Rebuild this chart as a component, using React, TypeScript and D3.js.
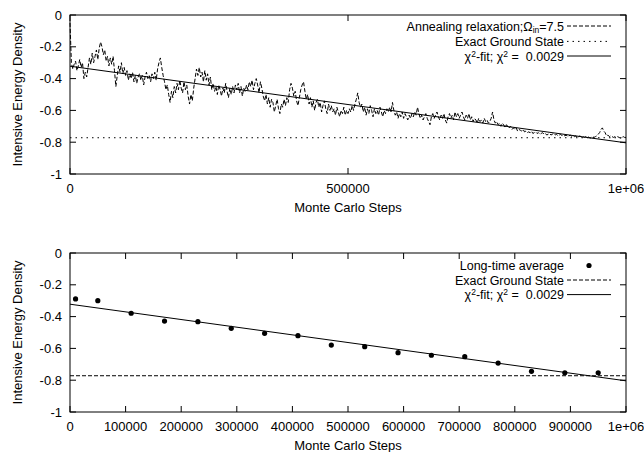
import React from 'react';
import * as d3 from 'd3';

// Annealing relaxation energy density, read every 2500 Monte Carlo steps (0 .. 1e6)
const annealingValues: number[] = [
  -0.05, -0.30, -0.34, -0.31, -0.29, -0.35, -0.32, -0.28, -0.33, -0.30,
  -0.40, -0.36, -0.39, -0.33, -0.27, -0.31, -0.24, -0.30, -0.26, -0.22,
  -0.28, -0.21, -0.17, -0.20, -0.25, -0.22, -0.29, -0.26, -0.32, -0.27,
  -0.31, -0.26, -0.35, -0.45, -0.38, -0.32, -0.36, -0.30, -0.37, -0.33,
  -0.38, -0.35, -0.41, -0.37, -0.40, -0.36, -0.42, -0.38, -0.43, -0.39,
  -0.37, -0.41, -0.38, -0.44, -0.39, -0.36, -0.40, -0.38, -0.42, -0.37,
  -0.40, -0.36, -0.41, -0.34, -0.30, -0.27, -0.33, -0.38, -0.42, -0.47,
  -0.44, -0.50, -0.55, -0.48, -0.52, -0.45, -0.49, -0.43, -0.47, -0.41,
  -0.46, -0.49, -0.42, -0.47, -0.44, -0.51, -0.56, -0.50, -0.54, -0.46,
  -0.40, -0.34, -0.38, -0.33, -0.39, -0.36, -0.42, -0.35, -0.41, -0.37,
  -0.44, -0.39, -0.47, -0.43, -0.48, -0.45, -0.50, -0.44, -0.47, -0.51,
  -0.46, -0.49, -0.43, -0.48, -0.52, -0.46, -0.50, -0.45, -0.49, -0.44,
  -0.47, -0.43, -0.49, -0.45, -0.51, -0.46, -0.48, -0.44, -0.47, -0.42,
  -0.45, -0.41, -0.47, -0.43, -0.40, -0.44, -0.49, -0.42, -0.46, -0.51,
  -0.54, -0.50, -0.56, -0.52, -0.58, -0.53, -0.55, -0.61, -0.57, -0.53,
  -0.59, -0.62, -0.56, -0.58, -0.53, -0.57, -0.52, -0.55, -0.47, -0.43,
  -0.46, -0.51, -0.48, -0.54, -0.57, -0.52, -0.47, -0.44, -0.42, -0.48,
  -0.53, -0.50, -0.56, -0.52, -0.58, -0.54, -0.60, -0.55, -0.53, -0.58,
  -0.55, -0.61, -0.57, -0.54, -0.59, -0.62, -0.56, -0.60, -0.57, -0.61,
  -0.59, -0.63, -0.58, -0.61, -0.64, -0.60, -0.62, -0.58, -0.63, -0.60,
  -0.62, -0.59, -0.61, -0.57, -0.60, -0.56, -0.53, -0.49, -0.55, -0.58,
  -0.56, -0.61, -0.58, -0.63, -0.59, -0.62, -0.57, -0.60, -0.64, -0.59,
  -0.62, -0.60, -0.63, -0.58, -0.61, -0.64, -0.60, -0.62, -0.59, -0.61,
  -0.58, -0.61, -0.55, -0.60, -0.63, -0.61, -0.65, -0.62, -0.64, -0.61,
  -0.65, -0.62, -0.64, -0.66, -0.63, -0.65, -0.62, -0.64, -0.61, -0.63,
  -0.58, -0.62, -0.65, -0.63, -0.66, -0.64, -0.62, -0.65, -0.67, -0.69,
  -0.64, -0.62, -0.65, -0.63, -0.61, -0.64, -0.66, -0.63, -0.65, -0.62,
  -0.66, -0.68, -0.64, -0.62, -0.65, -0.63, -0.66, -0.61, -0.64, -0.62,
  -0.65, -0.63, -0.61, -0.64, -0.66, -0.63, -0.65, -0.62, -0.66, -0.64,
  -0.67, -0.65, -0.66, -0.68, -0.65, -0.67, -0.66, -0.68, -0.65, -0.67,
  -0.66, -0.68, -0.67, -0.65, -0.61, -0.66, -0.68, -0.67, -0.69, -0.68,
  -0.70, -0.68, -0.69, -0.71, -0.69, -0.70, -0.71, -0.70, -0.72, -0.71,
  -0.72, -0.71, -0.73, -0.72, -0.725, -0.73, -0.72, -0.735, -0.73, -0.74,
  -0.735, -0.74, -0.73, -0.745, -0.74, -0.735, -0.745, -0.74, -0.75, -0.745,
  -0.74, -0.75, -0.745, -0.755, -0.75, -0.745, -0.755, -0.75, -0.745, -0.755,
  -0.75, -0.76, -0.755, -0.75, -0.76, -0.755, -0.76, -0.755, -0.765, -0.76,
  -0.755, -0.765, -0.76, -0.765, -0.76, -0.77, -0.765, -0.76, -0.77, -0.765,
  -0.77, -0.765, -0.77, -0.765, -0.775, -0.77, -0.765, -0.77, -0.765, -0.76,
  -0.75, -0.74, -0.72, -0.71, -0.73, -0.74, -0.76, -0.755, -0.765, -0.76,
  -0.765, -0.77, -0.765, -0.77, -0.765, -0.77, -0.775, -0.77, -0.765, -0.77,
  -0.77,
];
const annealingStep = 2500;

// Long-time averages
const averageSteps: number[] = [
  10000, 50000, 110000, 170000, 230000, 290000, 350000, 410000, 470000,
  530000, 590000, 650000, 710000, 770000, 830000, 890000, 950000,
];
const averageValues: number[] = [
  -0.289, -0.300, -0.379, -0.428, -0.432, -0.474, -0.505, -0.520, -0.579,
  -0.589, -0.627, -0.643, -0.652, -0.692, -0.744, -0.753, -0.753,
];

const groundState = -0.772;
const fitIntercept = -0.322;
const fitSlope = -0.482e-6;

const yTicks: number[] = [0, -0.2, -0.4, -0.6, -0.8, -1];
const xTicksTop: number[] = [0, 500000, 1000000];
const xTicksBottom: number[] = [0, 100000, 200000, 300000, 400000, 500000, 600000, 700000, 800000, 900000, 1000000];

const W = 644;
const H = 452;
const LEFT = 70;
const RIGHT = 626;
const FONT = "'Liberation Sans', Arial, Helvetica, sans-serif";
const FS = 13;
const LFS = 12.5;
const SFS = 8.5;
const DASH = '4,2';
const DOT = '1.5,4';

const fmtX = (v: number) => (v >= 1000000 ? '1e+06' : String(v));
const fmtY = (v: number) => (v === 0 ? '0' : String(v));

type PanelProps = {
  top: number;
  bottom: number;
  xTicks: number[];
  children: (x: d3.ScaleLinear<number, number>, y: d3.ScaleLinear<number, number>) => React.ReactNode;
};

function Panel({ top, bottom, xTicks, children }: PanelProps) {
  const x = d3.scaleLinear().domain([0, 1000000]).range([LEFT, RIGHT]);
  const y = d3.scaleLinear().domain([-1, 0]).range([bottom, top]);
  const tl = 6;
  return (
    <g>
      {yTicks.map((t) => (
        <g key={'y' + t}>
          <line x1={LEFT} x2={LEFT + tl} y1={y(t)} y2={y(t)} stroke="#000" />
          <line x1={RIGHT} x2={RIGHT - tl} y1={y(t)} y2={y(t)} stroke="#000" />
          <text x={LEFT - 8} y={y(t)} dy="0.36em" textAnchor="end" fontSize={FS} fontFamily={FONT}>
            {fmtY(t)}
          </text>
        </g>
      ))}
      {xTicks.map((t) => (
        <g key={'x' + t}>
          <line x1={x(t)} x2={x(t)} y1={bottom} y2={bottom - tl} stroke="#000" />
          <line x1={x(t)} x2={x(t)} y1={top} y2={top + tl} stroke="#000" />
          <text x={x(t)} y={bottom + 19} textAnchor="middle" fontSize={FS} fontFamily={FONT}>
            {fmtX(t)}
          </text>
        </g>
      ))}
      <text
        transform={`translate(${21.5},${(top + bottom) / 2}) rotate(-90)`}
        textAnchor="middle"
        fontSize={FS}
        fontFamily={FONT}
      >
        Intensive Energy Density
      </text>
      <text x={(LEFT + RIGHT) / 2} y={bottom + 38} textAnchor="middle" fontSize={FS} fontFamily={FONT}>
        Monte Carlo Steps
      </text>
      {children(x, y)}
      <rect x={LEFT} y={top} width={RIGHT - LEFT} height={bottom - top} fill="none" stroke="#000" />
    </g>
  );
}

const LEG_X = 564;
const SMP_A = 567;
const SMP_B = 611;

function FitLabel({ y }: { y: number }) {
  return (
    <text x={LEG_X} y={y} dy="0.36em" textAnchor="end" fontSize={LFS} fontFamily={FONT} xmlSpace="preserve">
      χ<tspan fontSize={SFS} dy="-4">2</tspan>
      <tspan dy="4">-fit; χ</tspan>
      <tspan fontSize={SFS} dy="-4">2</tspan>
      <tspan dy="4">{' =  0.0029'}</tspan>
    </text>
  );
}

function LegendText({ y, children }: { y: number; children: React.ReactNode }) {
  return (
    <text x={LEG_X} y={y} dy="0.36em" textAnchor="end" fontSize={LFS} fontFamily={FONT}>
      {children}
    </text>
  );
}

export default function App() {
  const annealingData = annealingValues.map((v, i) => [i * annealingStep, v] as [number, number]);
  const fitData: [number, number][] = [0, 1000000].map((s) => [s, fitIntercept + fitSlope * s]);
  return (
    <svg
      width={W}
      height={H}
      style={{ position: 'absolute', left: 0, top: 0, background: '#fff' }}
      xmlns="http://www.w3.org/2000/svg"
    >
      <rect width={W} height={H} fill="#fff" />
      <Panel top={15} bottom={174} xTicks={xTicksTop}>
        {(x, y) => {
          const line = d3.line<[number, number]>().x((d) => x(d[0])).y((d) => y(d[1]));
          const r = [26, 41.4, 56];
          return (
            <g>
              <path d={line(annealingData) || ''} fill="none" stroke="#000" strokeWidth={1} strokeDasharray={DASH} />
              <line x1={x(0)} x2={x(1000000)} y1={y(groundState)} y2={y(groundState)} stroke="#000" strokeDasharray={DOT} />
              <path d={line(fitData) || ''} fill="none" stroke="#000" strokeWidth={1} />
              <LegendText y={r[0]}>
                Annealing relaxation;Ω<tspan fontSize={SFS} dy="2">in</tspan>
                <tspan dy="-2">=7.5</tspan>
              </LegendText>
              <LegendText y={r[1]}>Exact Ground State</LegendText>
              <FitLabel y={r[2]} />
              <line x1={SMP_A} x2={SMP_B} y1={r[0]} y2={r[0]} stroke="#000" strokeDasharray={DASH} />
              <line x1={SMP_A} x2={SMP_B} y1={r[1]} y2={r[1]} stroke="#000" strokeDasharray={DOT} />
              <line x1={SMP_A} x2={SMP_B} y1={r[2]} y2={r[2]} stroke="#000" />
            </g>
          );
        }}
      </Panel>
      <Panel top={253} bottom={412} xTicks={xTicksBottom}>
        {(x, y) => {
          const line = d3.line<[number, number]>().x((d) => x(d[0])).y((d) => y(d[1]));
          const r = [265.5, 280, 294.6];
          return (
            <g>
              <line x1={x(0)} x2={x(1000000)} y1={y(groundState)} y2={y(groundState)} stroke="#000" strokeDasharray={DASH} />
              <path d={line(fitData) || ''} fill="none" stroke="#000" strokeWidth={1} />
              {averageSteps.map((s, i) => (
                <circle key={s} cx={x(s)} cy={y(averageValues[i])} r={2.6} fill="#000" />
              ))}
              <LegendText y={r[0]}>Long-time average</LegendText>
              <LegendText y={r[1]}>Exact Ground State</LegendText>
              <FitLabel y={r[2]} />
              <circle cx={(SMP_A + SMP_B) / 2} cy={r[0]} r={2.6} fill="#000" />
              <line x1={SMP_A} x2={SMP_B} y1={r[1]} y2={r[1]} stroke="#000" strokeDasharray={DASH} />
              <line x1={SMP_A} x2={SMP_B} y1={r[2]} y2={r[2]} stroke="#000" />
            </g>
          );
        }}
      </Panel>
    </svg>
  );
}
